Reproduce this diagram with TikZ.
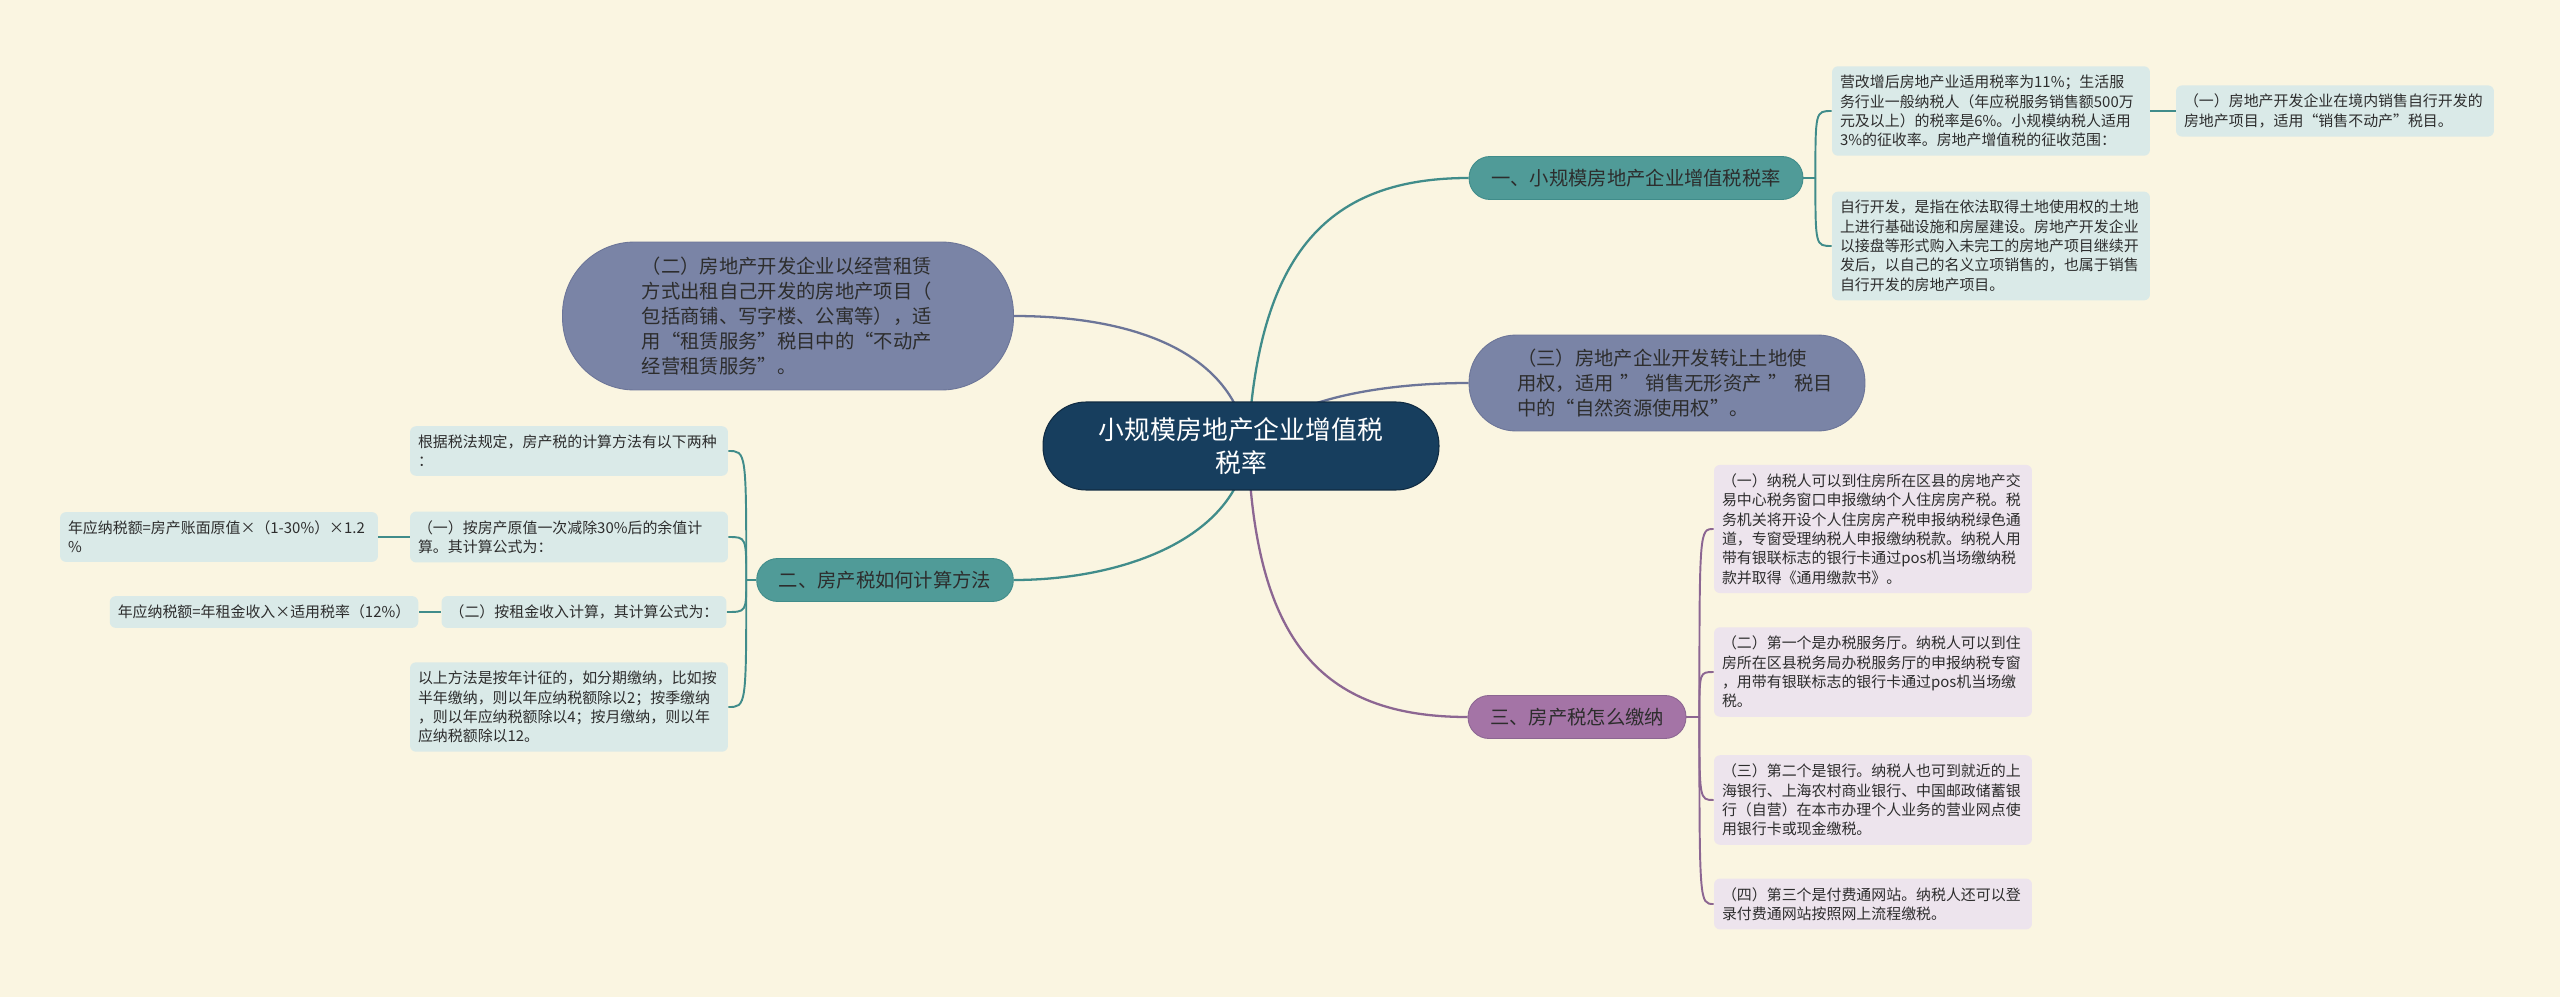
\documentclass[tikz,border=0pt]{standalone}
\usepackage{fontspec}
\setmainfont{Noto Sans CJK SC}
\usepackage{tikz}
\usetikzlibrary{backgrounds}
\definecolor{paper}{RGB}{250,245,225}
\definecolor{rootblue}{RGB}{23,62,94}
\definecolor{tealfill}{RGB}{80,155,152}
\definecolor{tealline}{RGB}{64,140,138}
\definecolor{slatefill}{RGB}{122,132,166}
\definecolor{slateline}{RGB}{108,117,152}
\definecolor{plumfill}{RGB}{164,116,166}
\definecolor{plumline}{RGB}{140,102,146}
\definecolor{tealleaf}{RGB}{218,234,232}
\definecolor{plumleaf}{RGB}{237,228,237}
\definecolor{inkgray}{RGB}{45,45,45}

\begin{document}
\begin{tikzpicture}[x=0.02cm,y=-0.02cm,
  leaf/.style={rounded corners=0.12cm, inner xsep=0.16cm, inner ysep=0.175cm, align=left, text=inkgray, font=\fontsize{8.5}{11}\selectfont},
  wide/.style={text width=6.04cm},
  topic/.style={rounded corners=0.42cm, inner xsep=0.44cm, minimum height=0.86cm, text=inkgray, font=\fontsize{11}{13}\selectfont, line width=0.5pt},
  bubble/.style={fill=slatefill, draw=slateline, line width=0.5pt, align=left, text width=5.85cm, text=inkgray, font=\fontsize{11}{14.2}\selectfont},
  link/.style={line width=1.3pt},
  twig/.style={line width=1.1pt}
]
% background
\begin{scope}[on background layer]
  \fill[paper] (0,0) rectangle (2560,997);
\end{scope}

% centre
\node[fill=rootblue, draw=rootblue!70!black, line width=0.6pt, rounded corners=0.86cm, minimum width=7.92cm, minimum height=1.76cm,
  align=center, text=white, font=\fontsize{14.7}{18.7}\selectfont] (root) at (1241,446) {小规模房地产企业增值税\\税率};
\coordinate (hub) at (1248,446);

% main topics
\node[topic, fill=tealfill, draw=tealline] (rate) at (1636,178) {一、小规模房地产企业增值税税率};
\node[topic, fill=tealfill, draw=tealline] (calc) at (885,580) {二、房产税如何计算方法};
\node[topic, fill=plumfill, draw=plumline] (pay) at (1577,717) {三、房产税怎么缴纳};
\node[bubble, rounded corners=1.44cm, minimum width=9.02cm, minimum height=2.96cm] (lease) at (788,316)
  {（二）房地产开发企业以经营租赁\\方式出租自己开发的房地产项目（\\包括商铺、写字楼、公寓等），适\\用“租赁服务”税目中的“不动产\\经营租赁服务”。};
\node[bubble, text width=6.0cm, rounded corners=0.94cm, minimum width=7.92cm, minimum height=1.92cm] (land) at (1667,383)
  {（三）房地产企业开发转让土地使\\用权，适用~"~销售无形资产~"~税目\\中的“自然资源使用权”。};

% RIGHT TOP: rate details
\node[leaf, wide, fill=tealleaf] (a1) at (1991,111) {营改增后房地产业适用税率为11\%；生活服\\务行业一般纳税人（年应税服务销售额500万\\元及以上）的税率是6\%。小规模纳税人适用\\3\%的征收率。房地产增值税的征收范围：};
\node[leaf, wide, fill=tealleaf] (a2) at (1991,246) {自行开发，是指在依法取得土地使用权的土地\\上进行基础设施和房屋建设。房地产开发企业\\以接盘等形式购入未完工的房地产项目继续开\\发后，以自己的名义立项销售的，也属于销售\\自行开发的房地产项目。};
\node[leaf, wide, fill=tealleaf] (a1a) at (2335,111) {（一）房地产开发企业在境内销售自行开发的\\房地产项目，适用“销售不动产”税目。};

% LEFT: calculation
\node[leaf, wide, fill=tealleaf] (b1) at (569,451) {根据税法规定，房产税的计算方法有以下两种\\：};
\node[leaf, wide, fill=tealleaf] (b2) at (569,537) {（一）按房产原值一次减除30\%后的余值计\\算。其计算公式为：};
\node[leaf, wide, fill=tealleaf] (b2a) at (219,537) {年应纳税额=房产账面原值×（1-30\%）×1.2\\\%};
\node[leaf, fill=tealleaf] (b3) at (584,612) {（二）按租金收入计算，其计算公式为：};
\node[leaf, fill=tealleaf] (b3a) at (264,612) {年应纳税额=年租金收入×适用税率（12\%）};
\node[leaf, wide, fill=tealleaf] (b4) at (569,707) {以上方法是按年计征的，如分期缴纳，比如按\\半年缴纳，则以年应纳税额除以2；按季缴纳\\，则以年应纳税额除以4；按月缴纳，则以年\\应纳税额除以12。};

% RIGHT BOTTOM: payment
\node[leaf, wide, fill=plumleaf] (c1) at (1873,529) {（一）纳税人可以到住房所在区县的房地产交\\易中心税务窗口申报缴纳个人住房房产税。税\\务机关将开设个人住房房产税申报纳税绿色通\\道，专窗受理纳税人申报缴纳税款。纳税人用\\带有银联标志的银行卡通过pos机当场缴纳税\\款并取得《通用缴款书》。};
\node[leaf, wide, fill=plumleaf] (c2) at (1873,672) {（二）第一个是办税服务厅。纳税人可以到住\\房所在区县税务局办税服务厅的申报纳税专窗\\，用带有银联标志的银行卡通过pos机当场缴\\税。};
\node[leaf, wide, fill=plumleaf] (c3) at (1873,800) {（三）第二个是银行。纳税人也可到就近的上\\海银行、上海农村商业银行、中国邮政储蓄银\\行（自营）在本市办理个人业务的营业网点使\\用银行卡或现金缴税。};
\node[leaf, wide, fill=plumleaf] (c4) at (1873,904) {（四）第三个是付费通网站。纳税人还可以登\\录付费通网站按照网上流程缴税。};

% connectors
\begin{scope}[on background layer]
  \draw[link, tealline] (hub) .. controls (1258,250) and (1330,178) .. (rate.west);
  \draw[link, slateline] (hub) .. controls (1235,350) and (1130,316) .. (lease.east);
  \draw[link, slateline] (hub) .. controls (1280,400) and (1380,383) .. (land.west);
  \draw[link, tealline] (hub) .. controls (1238,540) and (1120,580) .. (calc.east);
  \draw[link, plumline] (hub) .. controls (1255,640) and (1320,717) .. (pay.west);

  \draw[twig, tealline] (rate.east) -- ++(12,0) coordinate (rj);
  \foreach \k in {a1,a2} \draw[twig, tealline] (rj) .. controls (rj |- \k.west) .. (\k.west);
  \draw[twig, tealline] (a1.east) -- (a1a.west);

  \draw[twig, tealline] (calc.west) -- ++(-10,0) coordinate (cj);
  \foreach \k in {b1,b2,b3,b4} \draw[twig, tealline] (cj) .. controls (cj |- \k.east) .. (\k.east);
  \draw[twig, tealline] (b2.west) -- (b2a.east);
  \draw[twig, tealline] (b3.west) -- (b3a.east);

  \draw[twig, plumline] (pay.east) -- ++(13,0) coordinate (pj);
  \foreach \k in {c1,c2,c3,c4} \draw[twig, plumline] (pj) .. controls (pj |- \k.west) .. (\k.west);
\end{scope}
\end{tikzpicture}
\end{document}
